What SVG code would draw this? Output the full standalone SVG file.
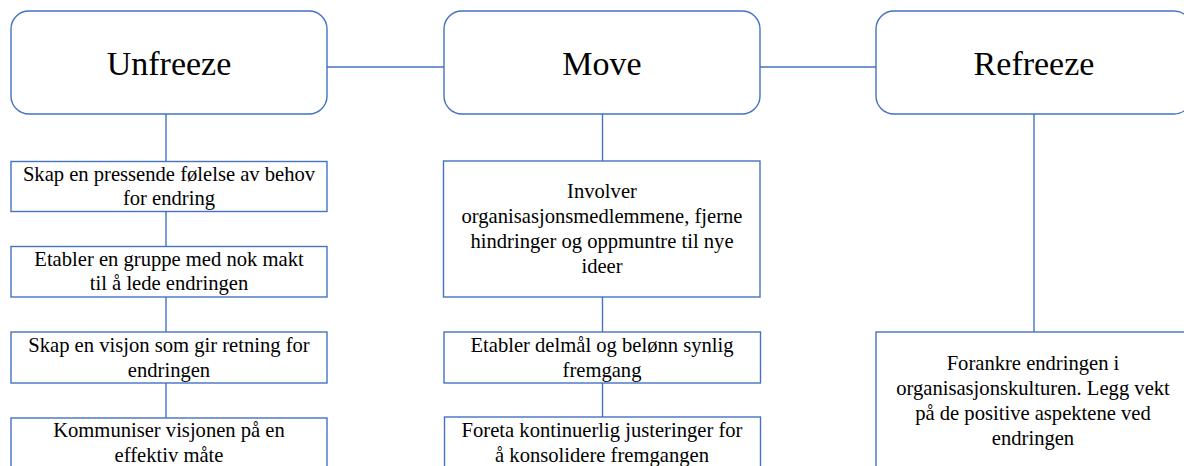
<svg xmlns="http://www.w3.org/2000/svg" width="1184" height="466" viewBox="0 0 1184 466">
<style>
.bg{fill:#ffffff}
.head{fill:#ffffff;stroke:#4472C4;stroke-width:1.4}
.box{fill:#ffffff;stroke:#4472C4;stroke-width:1.4}
.conn{stroke:#4472C4;stroke-width:1.4;fill:none}
.title{font-family:'Liberation Serif','Tinos','Times New Roman','DejaVu Serif',serif;font-size:34px;fill:#000;text-anchor:middle}
.t{font-family:'Liberation Serif','Tinos','Times New Roman','DejaVu Serif',serif;font-size:20.6px;fill:#000;text-anchor:middle}
</style>
<rect class="bg" x="0" y="0" width="1184" height="466"/>
<g id="connectors">
<line class="conn" x1="327" y1="67" x2="444" y2="67"/>
<line class="conn" x1="760" y1="67" x2="876" y2="67"/>
<line class="conn" x1="166" y1="114" x2="166" y2="161"/>
<line class="conn" x1="166" y1="212" x2="166" y2="247"/>
<line class="conn" x1="166" y1="297" x2="166" y2="332"/>
<line class="conn" x1="166" y1="383" x2="166" y2="418"/>
<line class="conn" x1="602.5" y1="114" x2="602.5" y2="161"/>
<line class="conn" x1="602.5" y1="297" x2="602.5" y2="332"/>
<line class="conn" x1="602.5" y1="383" x2="602.5" y2="417"/>
<line class="conn" x1="1034" y1="114" x2="1034" y2="332"/>
</g>
<g id="unfreeze">
<rect class="head" x="11" y="11" width="316" height="103" rx="18" ry="18"/>
<text class="title" x="169" y="75">Unfreeze</text>
</g>
<g id="move">
<rect class="head" x="444" y="11" width="316" height="103" rx="18" ry="18"/>
<text class="title" x="602" y="75">Move</text>
</g>
<g id="refreeze">
<rect class="head" x="876" y="11" width="316" height="103" rx="18" ry="18"/>
<text class="title" x="1034" y="75">Refreeze</text>
</g>
<g id="u1">
<rect class="box" x="11" y="161.5" width="316" height="50"/>
<text class="t" x="169" y="181">Skap en pressende følelse av behov</text>
<text class="t" x="169" y="204.5">for endring</text>
</g>
<g id="u2">
<rect class="box" x="11" y="246.5" width="316" height="50.5"/>
<text class="t" x="169" y="266">Etabler en gruppe med nok makt</text>
<text class="t" x="169" y="290">til å lede endringen</text>
</g>
<g id="u3">
<rect class="box" x="11" y="332" width="316" height="51"/>
<text class="t" x="169" y="352">Skap en visjon som gir retning for</text>
<text class="t" x="169" y="376.5">endringen</text>
</g>
<g id="u4">
<rect class="box" x="11" y="418" width="316" height="70"/>
<text class="t" x="169" y="437">Kommuniser visjonen på en</text>
<text class="t" x="169" y="461.5">effektiv måte</text>
</g>
<g id="m1">
<rect class="box" x="443.5" y="161" width="316.5" height="136"/>
<text class="t" x="602" y="198">Involver</text>
<text class="t" x="602" y="223">organisasjonsmedlemmene, fjerne</text>
<text class="t" x="602" y="248">hindringer og oppmuntre til nye</text>
<text class="t" x="602" y="273">ideer</text>
</g>
<g id="m2">
<rect class="box" x="444" y="332" width="316.5" height="51"/>
<text class="t" x="602" y="352">Etabler delmål og belønn synlig</text>
<text class="t" x="602" y="376.5">fremgang</text>
</g>
<g id="m3">
<rect class="box" x="444.5" y="417" width="316" height="70"/>
<text class="t" x="602" y="437">Foreta kontinuerlig justeringer for</text>
<text class="t" x="602" y="461.5">å konsolidere fremgangen</text>
</g>
<g id="r1">
<rect class="box" x="876" y="332" width="316" height="160"/>
<text class="t" x="1033" y="370">Forankre endringen i</text>
<text class="t" x="1033" y="395">organisasjonskulturen. Legg vekt</text>
<text class="t" x="1033" y="419.5">på de positive aspektene ved</text>
<text class="t" x="1033" y="444.5">endringen</text>
</g>
</svg>
